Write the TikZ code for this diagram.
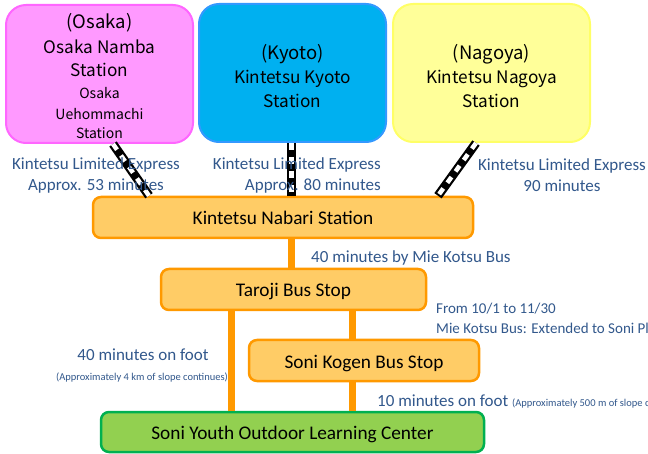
\documentclass[tikz,border=0pt]{standalone}
\usepackage{fontspec}
\setmainfont{Carlito}
\newfontfamily\jpfont{Noto Sans CJK JP}
\usetikzlibrary{calc}
\definecolor{lbl}{RGB}{50,88,140}
\definecolor{pinkfill}{HTML}{FF99FF}
\definecolor{pinkline}{HTML}{FF66FF}
\definecolor{bluefill}{HTML}{00B0F0}
\definecolor{blueline}{HTML}{3399FF}
\definecolor{yelfill}{HTML}{FFFF99}
\definecolor{yelline}{HTML}{FFFF66}
\definecolor{orfill}{HTML}{FFCC66}
\definecolor{orline}{HTML}{FF9900}
\definecolor{grfill}{HTML}{92D050}
\definecolor{grline}{HTML}{00B050}
\newcommand{\bigpar}[1]{{\fontsize{18.5}{23}\selectfont (#1)}}
\newcommand{\smallrow}[1]{{\fontsize{14}{21}\selectfont #1}}
\tikzset{
  citybox/.style={rounded corners=20pt, line width=2pt, align=center, inner sep=0pt,
    font=\jpfont\fontsize{17.2}{24}\selectfont},
  stopbox/.style={rounded corners=8pt, line width=2.5pt, draw=orline, fill=orfill,
    inner sep=0pt, text height=16pt, text depth=1pt, font=\fontsize{19.3}{22}\selectfont},
  conn/.style={draw=orline, line width=7pt},
  railbase/.style={draw=black, line width=9pt},
  railtop/.style={draw=white, line width=4.5pt, dash pattern=on 7pt off 7pt},
  lab/.style={text=lbl, font=\fontsize{17}{21}\selectfont, inner sep=0pt},
  smalllab/.style={text=lbl, font=\fontsize{10.5}{12}\selectfont, inner sep=0pt}
}
\begin{document}
\begin{tikzpicture}[x=1pt,y=-1pt]
\useasboundingbox (0,0) rectangle (648,454);
\clip (0,0) rectangle (648,454);
\fill[white] (0,0) rectangle (648,454);

% station boxes
\node[citybox, draw=pinkline, fill=pinkfill, minimum width=187pt, minimum height=138pt] (osaka) at (99.5,74)
  {\rule{0pt}{20pt}\bigpar{Osaka}\\[1pt] Osaka Namba\\[-1pt] Station\\[-2pt]
   \smallrow{Osaka}\\[-3pt] \smallrow{Uehommachi}\\[-5pt] \smallrow{Station}};
\node[citybox, draw=blueline, fill=bluefill, minimum width=187pt, minimum height=138pt] (kyoto) at (292.5,73)
  {\rule{0pt}{21pt}\bigpar{Kyoto}\\[0pt] Kintetsu Kyoto\\ Station};
\node[citybox, draw=yelline, fill=yelfill, minimum width=197pt, minimum height=138pt] (nagoya) at (491.5,73)
  {\rule{0pt}{21pt}\bigpar{Nagoya}\\[0pt] Kintetsu Nagoya\\ Station};

\node[stopbox, minimum width=380pt, minimum height=41pt] (nabari) at (283,217.5) {Kintetsu Nabari Station};
\node[stopbox, minimum width=265pt, minimum height=41pt] (taroji) at (293.5,289.5) {Taroji Bus Stop};
\node[stopbox, minimum width=230pt, minimum height=41pt] (kogen) at (364,360.5) {Soni Kogen Bus Stop};
\node[stopbox, draw=grline, fill=grfill, minimum width=383pt, minimum height=40pt] (youth) at (292.5,432) {Soni Youth Outdoor Learning Center};

% reference x positions
\coordinate (o1) at (113,0);
\coordinate (o2) at (149,0);
\coordinate (k1) at (291.5,0);
\coordinate (n1) at (476,0);
\coordinate (n2) at (438,0);
\coordinate (c1) at (291,0);
\coordinate (c2) at (231,0);
\coordinate (c3) at (352,0);

% rails
\draw[railbase] (osaka.south -| o1) -- (nabari.north -| o2);
\draw[railtop] (osaka.south -| o1) -- (nabari.north -| o2);
\draw[railbase] (kyoto.south -| k1) -- (nabari.north -| k1);
\draw[railtop] (kyoto.south -| k1) -- (nabari.north -| k1);
\draw[railbase] (nagoya.south -| n1) -- (nabari.north -| n2);
\draw[railtop] (nagoya.south -| n1) -- (nabari.north -| n2);

% bus / foot connectors
\draw[conn] (nabari.south -| c1) -- (taroji.north -| c1);
\draw[conn] (taroji.south -| c2) -- (youth.north -| c2);
\draw[conn] (taroji.south -| c3) -- (kogen.north -| c3);
\draw[conn] (kogen.south -| c3) -- (youth.north -| c3);

% labels
\node[lab, align=center] (l1) at (96,175) {Kintetsu Limited Express\\ Approx. 53 minutes};
\node[lab, align=right, anchor=east] (l2) at (381,175) {Kintetsu Limited Express\\ Approx. 80 minutes};
\node[lab, align=center] (l3) at (562,175) {Kintetsu Limited Express\\ 90 minutes};
\node[lab, anchor=west] (l4) at (311,258) {40 minutes by Mie Kotsu Bus};
\node[lab, anchor=west, align=left, font=\fontsize{15}{20}\selectfont] (l5) at (436,318) {From 10/1 to 11/30\\ Mie Kotsu Bus: Extended to Soni Plateau};
\node[lab] (l6) at (143,355) {40 minutes on foot};
\node[smalllab] (l7) at (142,378) {(Approximately 4 km of slope continues)};
\node[lab, anchor=base west] (l8) at (377,406) {10 minutes on foot {\fontsize{10.5}{12}\selectfont (Approximately 500 m of slope continues)}};
\end{tikzpicture}
\end{document}
